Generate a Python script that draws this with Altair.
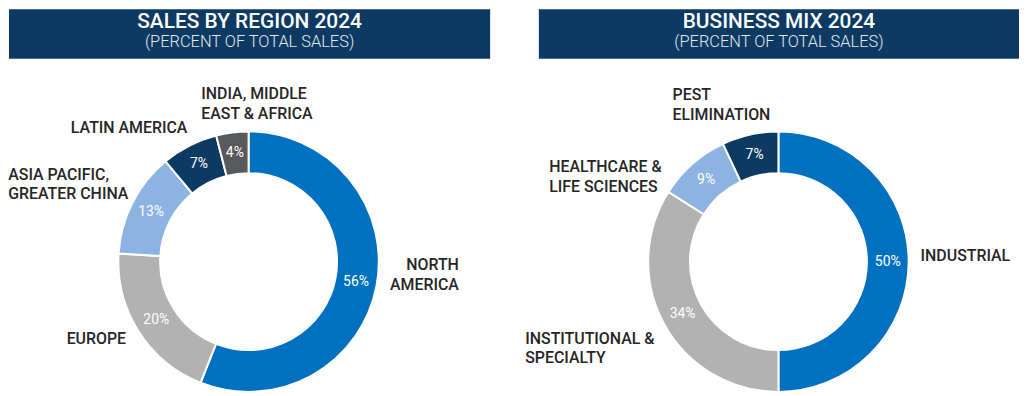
import math
import altair as alt
import pandas as pd

# ---------------- data ----------------
region_names = ["North America", "Europe", "Asia Pacific, Greater China",
                "Latin America", "India, Middle East & Africa"]
region_labels = ["NORTH\nAMERICA", "EUROPE", "ASIA PACIFIC,\nGREATER CHINA",
                 "LATIN AMERICA", "INDIA, MIDDLE\nEAST & AFRICA"]
region_values = [56, 20, 13, 7, 4]

mix_names = ["Industrial", "Institutional & Specialty",
             "Healthcare & Life Sciences", "Pest Elimination"]
mix_labels = ["INDUSTRIAL", "INSTITUTIONAL &\nSPECIALTY",
              "HEALTHCARE &\nLIFE SCIENCES", "PEST\nELIMINATION"]
mix_values = [50, 34, 9, 7]

left_title = "SALES BY REGION 2024"
right_title = "BUSINESS MIX 2024"
subtitle = "(PERCENT OF TOTAL SALES)"

# ---------------- styles ----------------
region_colors = ["#0070C0", "#B2B2B2", "#8DB3E2", "#0D3A63", "#58595B"]
mix_colors = ["#0070C0", "#B2B2B2", "#8DB3E2", "#0D3A63"]
NAVY = "#0D3A62"
TEXT = "#262626"
FONT = "Roboto"

# (align, dx, dy) nudges for the outer category labels
region_label_style = {
    "North America": ("right", 74, -23),
    "Europe": ("right", -5, 3),
    "Asia Pacific, Greater China": ("left", -117, -24),
    "Latin America": ("right", 2, -10),
    "India, Middle East & Africa": ("left", -30, -30),
}
mix_label_style = {
    "Industrial": ("left", 3, -6),
    "Institutional & Specialty": ("left", -132, 10),
    "Healthcare & Life Sciences": ("left", -138, 10),
    "Pest Elimination": ("left", -76, -31),
}

W, H = 1017, 388
CY = 254
OUTER, INNER = 131, 89
PCT_R = 110
LABEL_R = 140

all_names = region_names + mix_names
all_colors = region_colors + mix_colors
theta_scale = alt.Scale(domain=[0, 100], range=[0, 2 * math.pi])
color_scale = alt.Scale(domain=all_names, range=all_colors)


def donut(names, labels, values, cx, cy, styles):
    df = pd.DataFrame({"name": names, "label": labels, "value": values,
                       "order": list(range(len(names)))})
    base = (alt.Chart(df)
            .transform_window(end="sum(value)", sort=[alt.SortField("order")],
                              frame=[None, 0])
            .transform_calculate(start="datum.end - datum.value",
                                 mid="datum.end - datum.value / 2",
                                 pct="datum.value + '%'"))
    arcs = base.mark_arc(outerRadius=OUTER, innerRadius=INNER,
                         stroke="white", strokeWidth=2).encode(
        theta=alt.Theta("start:Q", scale=theta_scale, stack=False),
        theta2="end:Q",
        color=alt.Color("name:N", scale=color_scale, legend=None),
        x=alt.value(cx), y=alt.value(cy),
    )
    pct = base.mark_text(radius=PCT_R, font=FONT, fontSize=14,
                         color="white", baseline="middle").encode(
        theta=alt.Theta("mid:Q", scale=theta_scale, stack=False),
        text="pct:N",
        x=alt.value(cx), y=alt.value(cy),
    )
    layers = [arcs, pct]
    for n in names:
        align, dx, dy = styles[n]
        layers.append(
            base.transform_filter(alt.datum.name == n)
            .mark_text(radius=LABEL_R, align=align, dx=dx, dy=dy,
                       baseline="middle", lineBreak="\n", lineHeight=20,
                       font=FONT, fontSize=16, fontWeight=500, color=TEXT)
            .encode(theta=alt.Theta("mid:Q", scale=theta_scale, stack=False),
                    text="label:N",
                    x=alt.value(cx), y=alt.value(cy))
        )
    return layers


def banner(title, x0, x1):
    d = pd.DataFrame({"t": [title], "s": [subtitle]})
    rect = alt.Chart(d).mark_rect(color=NAVY).encode(
        x=alt.value(x0), x2=alt.value(x1), y=alt.value(0), y2=alt.value(50))
    cx = (x0 + x1) / 2
    t = alt.Chart(d).mark_text(font=FONT, fontSize=21, fontWeight=500,
                               color="white", baseline="middle").encode(
        x=alt.value(cx), y=alt.value(13), text="t:N")
    s = alt.Chart(d).mark_text(font=FONT, fontSize=16.5, fontWeight=300,
                               color="#E4E8EE", baseline="middle").encode(
        x=alt.value(cx), y=alt.value(33), text="s:N")
    return [rect, t, s]


layers = (banner(left_title, 1, 485) + banner(right_title, 534, 1017)
          + donut(region_names, region_labels, region_values, 242, CY,
                  region_label_style)
          + donut(mix_names, mix_labels, mix_values, 775, CY,
                  mix_label_style))

chart = (alt.layer(*layers)
         .properties(width=W, height=H, padding=0,
                     autosize=alt.AutoSizeParams(type="none"),
                     background="white")
         .configure_view(stroke=None))

chart.save("out.html", embed_options={"renderer": "svg", "actions": False})
